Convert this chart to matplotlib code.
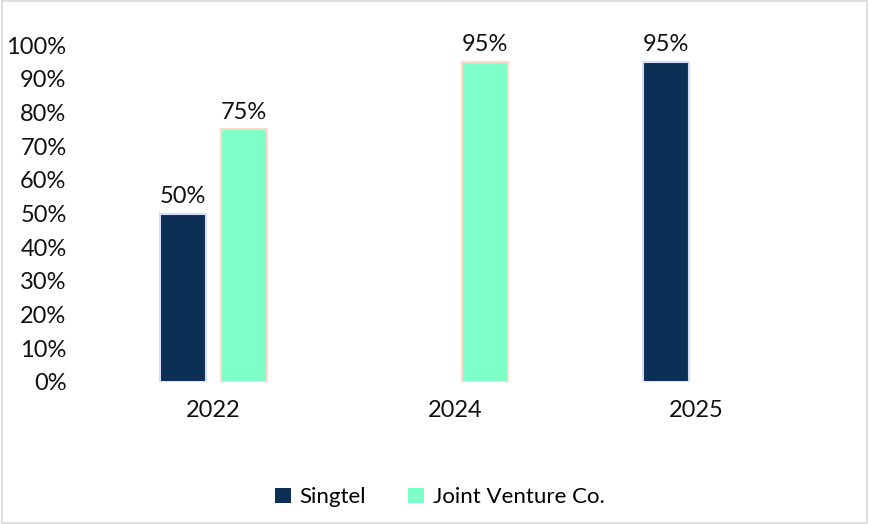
import matplotlib
matplotlib.use("Agg")
import matplotlib.pyplot as plt
import numpy as np
from matplotlib.patches import Rectangle

plt.rcParams['font.family'] = ['Lato', 'DejaVu Sans']

years = ["2022", "2024", "2025"]
series_names = ["Singtel", "Joint Venture Co."]
singtel = [0.50, np.nan, 0.95]
jv = [0.75, 0.95, np.nan]
yticks = [0, 0.1, 0.2, 0.3, 0.4, 0.5, 0.6, 0.7, 0.8, 0.9, 1.0]

colors = ["#0c2f55", "#7fffc8"]
edges = ["#d3ddf9", "#fcdcc8"]

FS = 17

fig = plt.figure(figsize=(8.69, 5.24), dpi=100)
fig.patches.append(Rectangle((0.002, 0.002), 0.996, 0.996, transform=fig.transFigure,
                             fill=False, edgecolor="#d9d9d9", linewidth=1.2))
ax = fig.add_axes([0.107, 0.271, 0.833, 0.643])

x = np.arange(len(years))
width = 0.19
offset = 0.126
for i, (vals, c, e, name) in enumerate(zip([singtel, jv], colors, edges, series_names)):
    pos = x + (offset if i == 1 else -offset)
    ax.bar(pos, vals, width, color=c, edgecolor=e, linewidth=1.5, label=name)
    for p, v in zip(pos, vals):
        if not np.isnan(v):
            ax.text(p, v + 0.02, f"{int(round(v*100))}%", ha="center", va="bottom",
                    fontsize=FS, color="#111111")

ax.set_xlim(-0.5, 2.5)
ax.set_ylim(0, 1.0)
ax.set_yticks(yticks)
ax.set_yticklabels([f"{int(round(t*100))}%" for t in yticks], fontsize=FS, color="#111111")
ax.set_xticks(x)
ax.set_xticklabels(years, fontsize=FS, color="#111111")
ax.tick_params(axis="both", length=0)
ax.tick_params(axis="x", pad=13)
ax.tick_params(axis="y", pad=19)
for s in ax.spines.values():
    s.set_visible(False)

leg = fig.legend(loc="center", bbox_to_anchor=(0.506, 0.051), ncol=2, frameon=False,
                 fontsize=16, handlelength=0.7, handleheight=0.7, handletextpad=0.4,
                 columnspacing=1.9)
for h in leg.legend_handles:
    h.set_edgecolor("none")

fig.savefig("out.png", dpi=100)
